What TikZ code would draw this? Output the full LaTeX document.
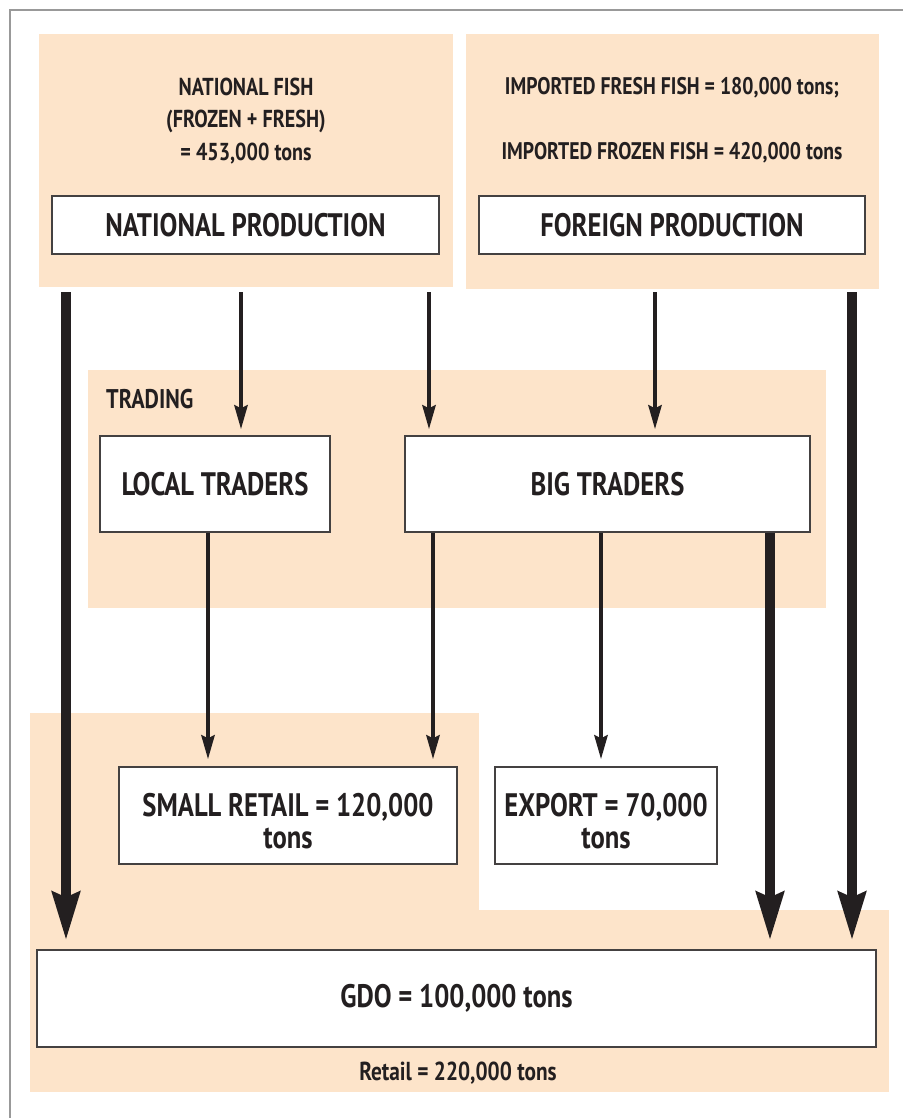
\documentclass[tikz,border=0pt]{standalone}
\usepackage{fontspec}
\setmainfont{PT Sans}[FakeStretch=0.82]
\usetikzlibrary{arrows.meta}

\definecolor{peach}{HTML}{FDE4CA}
\definecolor{ink}{HTML}{231F20}

\begin{document}
\begin{tikzpicture}[x=1pt, y=-1pt,
    panel/.style = {fill=peach, inner sep=0pt},
    stage/.style = {draw=ink!85, line width=1.2pt, fill=white, inner sep=0pt, align=center, text=ink,
                    font=\fontsize{32.5}{32}\selectfont\bfseries},
    twoline/.style = {text height=67pt},
    note/.style = {inner sep=0pt, align=center, text=ink, font=\fontsize{24}{32.5}\selectfont\bfseries},
    flow/.style = {draw=ink, line width=4.5pt, -{Stealth[length=24pt, width=13pt, inset=3pt]}},
    bigflow/.style = {draw=ink, line width=10pt, -{Stealth[length=48pt, width=27pt, inset=5pt]}}]
    \useasboundingbox (0,0) rectangle (903,1118);
    \draw[gray!80, line width=1.2pt] (10,1118) -- (10,10) -- (903,10);

    % coloured areas
    \node[panel, minimum width=414pt, minimum height=253pt] (natpanel) at (246,160.5) {};
    \node[panel, minimum width=413pt, minimum height=255pt] (forpanel) at (672.5,161.5) {};
    \node[panel, minimum width=738pt, minimum height=238pt] (tradepanel) at (457,489) {};
    \node[panel, minimum width=449pt, minimum height=379pt] (retailpanel) at (254.5,902.5) {};
    \node[panel, minimum width=859pt, minimum height=182pt] (gdopanel) at (459.5,1001) {};

    % texts
    \node[note, font=\fontsize{24.5}{32.5}\selectfont\bfseries] (natfish) at (246,121) {NATIONAL FISH\\(FROZEN + FRESH)\\= 453,000 tons};
    \node[note] (freshfish) at (672,88) {IMPORTED FRESH FISH = 180,000 tons;};
    \node[note] (frozenfish) at (672,153) {IMPORTED FROZEN FISH = 420,000 tons};
    \node[note, anchor=west, font=\fontsize{27}{27}\selectfont\bfseries] (trading) at (106,399) {TRADING};
    \node[note, font=\fontsize{26}{26}\selectfont\bfseries] (retail) at (458,1073) {Retail = 220,000 tons};

    % boxes
    \node[stage, minimum width=387pt, minimum height=58pt] (natprod) at (245.5,225) {NATIONAL PRODUCTION};
    \node[stage, minimum width=386pt, minimum height=58pt] (forprod) at (672,225) {FOREIGN PRODUCTION};
    \node[stage, minimum width=230pt, minimum height=96pt] (local) at (215,484) {LOCAL TRADERS};
    \node[stage, minimum width=405pt, minimum height=96pt] (big) at (607.5,484) {BIG TRADERS};
    \node[stage, twoline, minimum width=338pt, minimum height=97pt] (small) at (288,815.5) {SMALL RETAIL = 120,000\\tons};
    \node[stage, twoline, minimum width=222pt, minimum height=97pt] (export) at (606,815.5) {EXPORT = 70,000\\tons};
    \node[stage, minimum width=839pt, minimum height=97pt] (gdo) at (456.5,998.5) {GDO = 100,000 tons};

    % arrows
    \coordinate (top1) at ([xshift=-180pt]natpanel.south);
    \coordinate (top2) at ([xshift=-5pt]natpanel.south);
    \coordinate (top3) at ([xshift=183pt]natpanel.south);
    \coordinate (top4) at ([xshift=-17.5pt]forpanel.south);
    \coordinate (top5) at ([xshift=179.5pt]forpanel.south);
    \coordinate (bot1) at ([xshift=-7pt]local.south);
    \coordinate (bot2) at ([xshift=-174.5pt]big.south);
    \coordinate (bot3) at ([xshift=-6.5pt]big.south);
    \coordinate (bot4) at ([xshift=162.5pt]big.south);

    \draw[bigflow, shorten <=5pt, shorten >=9pt] (top1) -- (top1 |- gdo.north);
    \draw[flow, shorten <=5pt, shorten >=6pt] (top2) -- (top2 |- local.north);
    \draw[flow, shorten <=5pt, shorten >=6pt] (top3) -- (top3 |- big.north);
    \draw[flow, shorten <=3pt, shorten >=6pt] (top4) -- (top4 |- big.north);
    \draw[bigflow, shorten <=3pt, shorten >=9pt] (top5) -- (top5 |- gdo.north);
    \draw[flow, shorten >=7pt] (bot1) -- (bot1 |- small.north);
    \draw[flow, shorten >=7pt] (bot2) -- (bot2 |- small.north);
    \draw[flow, shorten >=7pt] (bot3) -- (bot3 |- export.north);
    \draw[bigflow, shorten >=9pt] (bot4) -- (bot4 |- gdo.north);
\end{tikzpicture}
\end{document}
